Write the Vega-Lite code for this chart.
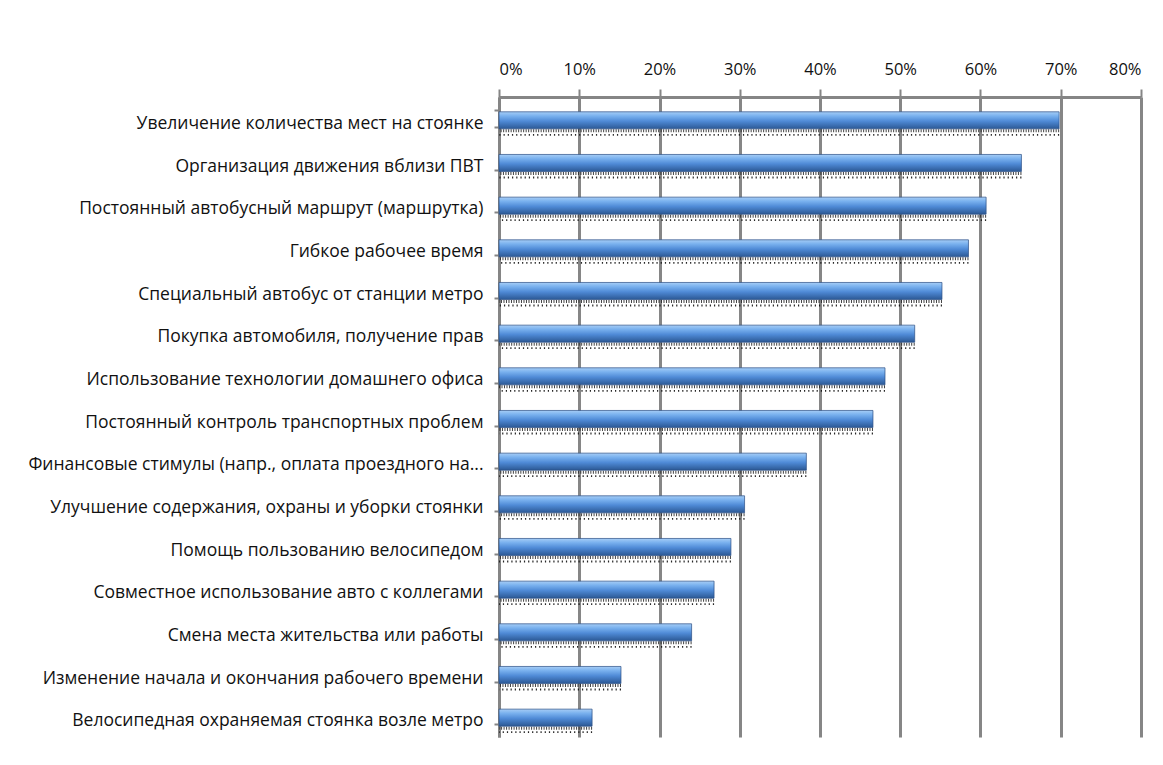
{
  "$schema": "https://vega.github.io/schema/vega-lite/v6.json",
  "width": 642,
  "height": 640,
  "autosize": {"type": "none"},
  "padding": {"left": 499, "top": 97, "right": 22, "bottom": 28},
  "background": "white",
  "config": {
    "view": {"stroke": null},
    "font": "Open Sans"
  },
  "data": {
    "values": [
      {"measure": "Увеличение количества мест на стоянке", "share": 0.698},
      {"measure": "Организация движения вблизи ПВТ", "share": 0.651},
      {"measure": "Постоянный автобусный маршрут (маршрутка)", "share": 0.607},
      {"measure": "Гибкое рабочее время", "share": 0.585},
      {"measure": "Специальный автобус от станции метро", "share": 0.552},
      {"measure": "Покупка автомобиля, получение прав", "share": 0.518},
      {"measure": "Использование технологии домашнего офиса", "share": 0.481},
      {"measure": "Постоянный контроль транспортных проблем", "share": 0.466},
      {"measure": "Финансовые стимулы (напр., оплата проездного на...", "share": 0.383},
      {"measure": "Улучшение содержания, охраны и уборки стоянки", "share": 0.306},
      {"measure": "Помощь пользованию велосипедом", "share": 0.289},
      {"measure": "Совместное использование авто с коллегами", "share": 0.268},
      {"measure": "Смена места жительства или работы", "share": 0.240},
      {"measure": "Изменение начала и окончания рабочего времени", "share": 0.152},
      {"measure": "Велосипедная охраняемая стоянка возле метро", "share": 0.116}
    ]
  },
  "encoding": {
    "y": {
      "field": "measure",
      "type": "nominal",
      "sort": null,
      "scale": {"paddingInner": 0.6, "paddingOuter": 0.3},
      "axis": {
        "title": null,
        "labelFontSize": 17.5,
        "labelColor": "#111111",
        "labelLimit": 600,
        "labelPadding": 11,
        "labelOffset": 5,
        "domainColor": "#858585",
        "domainWidth": 3,
        "tickColor": "#858585",
        "tickWidth": 2,
        "tickSize": 5,
        "tickBand": "extent",
        "grid": false
      }
    },
    "x": {
      "field": "share",
      "type": "quantitative",
      "scale": {"domain": [0, 0.8], "nice": false},
      "axis": {
        "orient": "top",
        "title": null,
        "format": ".0%",
        "values": [0, 0.1, 0.2, 0.3, 0.4, 0.5, 0.6, 0.7, 0.8],
        "labelFontSize": 16.5,
        "labelColor": "#111111",
        "labelPadding": 12,
        "domainColor": "#858585",
        "domainWidth": 3,
        "tickColor": "#858585",
        "tickWidth": 2,
        "tickSize": 8,
        "grid": true,
        "gridColor": "#868686",
        "gridWidth": 3
      }
    }
  },
  "layer": [
    {
      "mark": {"type": "rule", "yOffset": 12.5, "strokeWidth": 3, "strokeDash": [1, 1.5], "color": "#222222", "opacity": 0.85},
      "encoding": {
        "x2": {"datum": 0}
      }
    },
    {
      "mark": {"type": "rule", "yOffset": 16.5, "strokeWidth": 1.8, "strokeDash": [1.2, 3], "color": "#111111", "opacity": 0.9},
      "encoding": {
        "x2": {"datum": 0}
      }
    },
    {
      "mark": {
        "type": "bar",
        "yOffset": 2,
        "stroke": "#2a4e84",
        "strokeWidth": 0.7,
        "color": {
          "gradient": "linear",
          "x1": 0, "y1": 0, "x2": 0, "y2": 1,
          "stops": [
            {"offset": 0, "color": "#a6cdf6"},
            {"offset": 0.25, "color": "#78b0ee"},
            {"offset": 0.55, "color": "#4f8ad6"},
            {"offset": 1, "color": "#2b5894"}
          ]
        }
      },
      "encoding": {}
    }
  ]
}
